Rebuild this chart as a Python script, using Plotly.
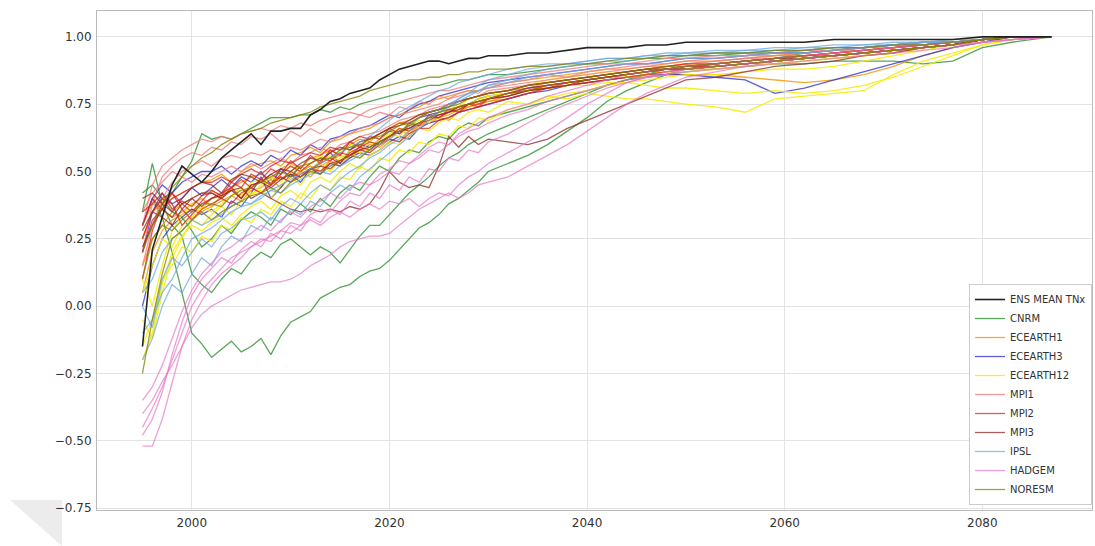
import plotly.graph_objects as go

# x positions (years)
YEARS = [1995, 1996, 1997, 1998, 1999, 2000, 2001, 2002, 2003, 2004, 2005, 2006,
         2007, 2008, 2009, 2010, 2011, 2012, 2013, 2014, 2015, 2016, 2017, 2018,
         2019, 2020, 2021, 2022, 2023, 2024, 2025, 2026, 2027, 2028, 2029, 2030,
         2032, 2034, 2036, 2038, 2040, 2042, 2044, 2046, 2048, 2050,
         2053, 2056, 2059, 2062, 2065, 2068, 2071, 2074, 2077, 2080, 2083,
         2087]

# all series values are in hundredths of the normalised index
SCALE = 100

ENS_MEAN = [-15, 21, 33, 45, 52, 49, 46, 50, 55, 58, 61, 64,
            60, 65, 65, 66, 66, 71, 73, 76, 77, 79, 80, 81,
            84, 86, 88, 89, 90, 91, 91, 90, 91, 92, 92, 93,
            93, 94, 94, 95, 96, 96, 96, 97, 97, 98,
            98, 98, 98, 98, 99, 99, 99, 99, 99, 100, 100,
            100]

CNRM = [
    [30, 40, 33, 20, 5, -10, -14, -19, -16, -13, -17, -15,
     -12, -18, -11, -6, -4, -2, 3, 5, 7, 8, 11, 13,
     14, 17, 21, 25, 29, 31, 34, 38, 40, 43, 46, 50,
     53, 56, 60, 65, 70, 76, 80, 83, 86, 88,
     90, 91, 92, 94, 95, 96, 97, 97, 98, 99, 100,
     100],
    [35, 53, 38, 30, 26, 12, 8, 5, 10, 14, 12, 17,
     20, 18, 23, 25, 22, 19, 22, 20, 16, 21, 26, 30,
     30, 34, 38, 42, 45, 48, 52, 55, 57, 60, 62, 64,
     67, 70, 73, 76, 79, 82, 84, 86, 88, 89,
     90, 91, 92, 93, 94, 95, 96, 97, 98, 99, 100,
     100],
    [42, 45, 40, 35, 33, 28, 22, 25, 30, 27, 32, 35,
     33, 30, 36, 34, 38, 35, 40, 37, 42, 45, 43, 48,
     52, 50, 55, 58, 57, 61, 63, 62, 66, 68, 67, 70,
     72, 74, 76, 78, 80, 82, 84, 85, 86, 87,
     88, 89, 90, 90, 91, 91, 91, 90, 91, 96, 98,
     100],
    [25, 35, 40, 42, 48, 54, 64, 62, 63, 62, 64, 66,
     68, 70, 70, 70, 71, 71, 73, 72, 74, 73, 75, 76,
     77, 78, 79, 80, 81, 82, 82, 83, 84, 84, 85, 86,
     86, 87, 88, 89, 90, 90, 91, 92, 92, 93,
     93, 94, 94, 95, 96, 96, 97, 98, 98, 99, 100,
     100],
]

ECEARTH1 = [
    [15, 25, 30, 35, 38, 40, 42, 43, 41, 44, 46, 48,
     49, 47, 51, 53, 51, 55, 56, 58, 56, 60, 62, 61,
     64, 66, 68, 69, 71, 72, 73, 75, 76, 77, 78, 79,
     80, 81, 83, 84, 85, 86, 87, 88, 88, 89,
     90, 91, 92, 93, 94, 95, 96, 97, 98, 99, 100,
     100],
    [5, 20, 28, 32, 34, 36, 35, 37, 39, 41, 39, 43,
     44, 47, 44, 48, 50, 48, 52, 54, 52, 56, 58, 57,
     60, 62, 61, 65, 67, 68, 70, 71, 73, 74, 75, 76,
     77, 79, 81, 82, 83, 84, 85, 85, 86, 86,
     86, 85, 84, 83, 84, 86, 89, 93, 96, 98, 100,
     100],
    [25, 35, 38, 40, 42, 44, 46, 47, 49, 46, 50, 52,
     53, 54, 52, 56, 57, 59, 57, 61, 62, 64, 65, 66,
     68, 70, 71, 73, 74, 76, 77, 78, 79, 80, 80, 81,
     83, 84, 85, 86, 87, 88, 88, 89, 90, 91,
     91, 92, 93, 94, 95, 96, 96, 97, 98, 99, 100,
     100],
    [30, 38, 36, 33, 35, 38, 40, 37, 41, 43, 40, 44,
     42, 46, 48, 46, 50, 52, 50, 54, 56, 55, 58, 60,
     59, 62, 65, 64, 67, 69, 70, 69, 72, 74, 75, 76,
     78, 80, 81, 82, 83, 84, 85, 86, 87, 88,
     88, 89, 90, 91, 92, 93, 94, 96, 97, 99, 100,
     100],
]

ECEARTH3 = [
    [20, 35, 42, 38, 40, 44, 41, 44, 47, 44, 48, 46,
     50, 45, 51, 48, 52, 50, 54, 57, 53, 58, 60, 59,
     62, 65, 64, 67, 70, 71, 72, 73, 74, 75, 77, 78,
     79, 81, 82, 83, 84, 85, 86, 87, 88, 88,
     89, 90, 91, 92, 93, 94, 95, 96, 97, 99, 100,
     100],
    [0, 15, 25, 30, 33, 36, 34, 36, 33, 39, 37, 42,
     48, 40, 44, 49, 46, 51, 49, 53, 52, 55, 57, 56,
     58, 61, 63, 62, 66, 68, 69, 70, 72, 73, 74, 75,
     77, 79, 80, 82, 83, 84, 85, 86, 86, 86,
     85, 84, 79, 81, 84, 87, 90, 93, 96, 98, 100,
     100],
    [30, 40, 45, 42, 46, 48, 50, 50, 52, 49, 52, 54,
     52, 56, 54, 58, 56, 60, 58, 62, 63, 65, 66, 67,
     69, 71, 70, 73, 75, 76, 78, 79, 80, 81, 82, 83,
     84, 85, 86, 87, 88, 89, 90, 90, 91, 92,
     92, 93, 94, 94, 95, 96, 97, 98, 98, 99, 100,
     100],
]

ECEARTH12 = [
    [-20, -10, 8, 20, 26, 30, 28, 31, 33, 30, 34, 37,
     39, 36, 41, 43, 40, 46, 48, 46, 50, 53, 51, 56,
     58, 61, 60, 63, 66, 65, 68, 70, 69, 72, 73, 72,
     76, 75, 78, 77, 79, 78, 77, 77, 76, 75,
     74, 72, 77, 78, 79, 80, 86, 91, 94, 97, 99,
     100],
    [-5, -12, 5, 18, 25, 32, 30, 34, 37, 34, 39, 42,
     43, 40, 45, 48, 45, 50, 53, 50, 55, 57, 55, 59,
     62, 64, 63, 67, 69, 68, 72, 73, 74, 75, 77, 78,
     79, 80, 81, 82, 82, 83, 83, 82, 81, 81,
     80, 79, 80, 79, 80, 82, 85, 89, 93, 97, 99,
     100],
    [10, 0, 15, 28, 34, 38, 36, 40, 41, 44, 41, 46,
     47, 45, 49, 52, 50, 53, 56, 54, 58, 60, 59, 62,
     64, 66, 68, 67, 70, 72, 73, 75, 74, 77, 78, 79,
     80, 82, 84, 85, 86, 87, 87, 88, 89, 90,
     90, 91, 92, 93, 94, 95, 96, 97, 98, 99, 100,
     100],
    [5, 15, 25, 22, 30, 33, 37, 35, 38, 41, 44, 41,
     45, 48, 46, 50, 52, 50, 54, 56, 54, 58, 57, 61,
     60, 64, 66, 65, 68, 70, 70, 72, 73, 75, 76, 78,
     79, 80, 81, 82, 84, 85, 85, 86, 87, 87,
     88, 89, 90, 91, 92, 93, 94, 96, 97, 99, 100,
     100],
    [-15, -5, 10, 15, 22, 20, 26, 24, 30, 28, 33, 31,
     36, 34, 39, 37, 42, 40, 45, 43, 48, 47, 52, 50,
     55, 54, 58, 57, 61, 60, 64, 63, 67, 66, 70, 69,
     73, 75, 77, 79, 80, 82, 83, 84, 85, 86,
     86, 87, 88, 88, 89, 91, 93, 95, 97, 99, 100,
     100],
]

MPI1 = [
    [30, 45, 52, 55, 58, 60, 62, 61, 63, 62, 64, 65,
     66, 65, 67, 66, 68, 67, 69, 70, 71, 72, 71, 73,
     74, 75, 76, 77, 78, 79, 80, 80, 81, 82, 83, 84,
     85, 86, 87, 88, 89, 90, 90, 91, 92, 92,
     93, 93, 94, 95, 95, 96, 97, 97, 98, 99, 100,
     100],
    [15, 30, 40, 46, 50, 52, 54, 52, 55, 56, 55, 57,
     56, 58, 57, 59, 58, 60, 62, 61, 63, 64, 66, 67,
     68, 70, 71, 72, 73, 74, 75, 77, 78, 79, 80, 81,
     82, 83, 84, 85, 86, 87, 88, 89, 89, 90,
     91, 92, 92, 93, 94, 95, 96, 97, 98, 99, 100,
     100],
    [35, 42, 46, 50, 48, 46, 49, 48, 50, 52, 50, 53,
     51, 53, 55, 53, 56, 57, 59, 57, 60, 61, 63, 64,
     65, 67, 69, 70, 71, 73, 74, 75, 76, 77, 78, 80,
     81, 82, 83, 84, 85, 86, 87, 88, 89, 90,
     91, 92, 93, 93, 94, 95, 96, 97, 98, 99, 100,
     100],
    [20, 38, 48, 52, 55, 57, 56, 59, 58, 61, 60, 63,
     62, 64, 61, 65, 63, 66, 64, 67, 69, 68, 71, 70,
     72, 71, 74, 73, 76, 75, 78, 77, 79, 80, 79, 82,
     83, 84, 86, 85, 87, 88, 89, 90, 90, 91,
     92, 93, 93, 94, 95, 95, 96, 97, 98, 99, 100,
     100],
]

MPI2 = [
    [25, 35, 40, 38, 30, 34, 38, 40, 42, 44, 40, 45,
     46, 49, 47, 50, 48, 51, 53, 55, 53, 57, 59, 58,
     61, 63, 65, 66, 68, 69, 71, 72, 74, 75, 76, 77,
     79, 81, 82, 83, 84, 85, 86, 87, 88, 89,
     90, 91, 92, 93, 94, 95, 96, 97, 98, 99, 100,
     100],
    [10, 28, 38, 42, 36, 32, 36, 38, 40, 38, 42, 44,
     42, 45, 48, 46, 49, 51, 50, 53, 54, 56, 58, 57,
     60, 62, 61, 64, 66, 66, 69, 70, 72, 73, 74, 75,
     77, 79, 81, 82, 83, 84, 85, 86, 87, 88,
     89, 90, 91, 92, 93, 94, 95, 96, 97, 99, 100,
     100],
    [20, 32, 36, 40, 42, 44, 46, 46, 48, 46, 49, 51,
     49, 52, 54, 53, 55, 57, 56, 59, 58, 61, 63, 62,
     64, 66, 68, 68, 70, 72, 73, 75, 76, 77, 78, 79,
     80, 82, 83, 84, 85, 86, 87, 88, 89, 90,
     90, 91, 92, 93, 94, 95, 96, 97, 98, 99, 100,
     100],
    [35, 38, 42, 36, 39, 37, 41, 42, 40, 44, 47, 44,
     47, 45, 49, 52, 50, 53, 55, 54, 57, 56, 59, 61,
     60, 63, 66, 65, 68, 70, 70, 72, 74, 75, 75, 77,
     79, 80, 82, 83, 84, 85, 86, 87, 88, 89,
     89, 90, 91, 92, 93, 94, 95, 96, 97, 99, 100,
     100],
    [30, 40, 36, 42, 38, 35, 39, 43, 41, 46, 44, 49,
     47, 51, 49, 54, 51, 56, 53, 58, 56, 61, 59, 63,
     62, 66, 64, 68, 67, 71, 70, 73, 72, 75, 74, 77,
     78, 80, 81, 83, 84, 85, 86, 87, 88, 88,
     89, 90, 91, 92, 93, 94, 95, 96, 97, 99, 100,
     100],
]

MPI3 = [
    [28, 35, 33, 30, 36, 40, 42, 42, 40, 43, 44, 40,
     42, 40, 38, 36, 35, 36, 35, 36, 35, 37, 36, 38,
     43, 50, 46, 44, 45, 44, 52, 63, 59, 63, 60, 62,
     61, 60, 62, 66, 69, 72, 75, 78, 81, 84,
     85, 87, 89, 90, 91, 93, 94, 96, 97, 99, 100,
     100],
    [40, 42, 38, 35, 40, 44, 46, 45, 42, 47, 49, 48,
     46, 49, 51, 50, 53, 55, 54, 57, 59, 58, 61, 62,
     64, 66, 67, 69, 71, 72, 73, 74, 76, 77, 78, 79,
     80, 82, 83, 84, 85, 86, 87, 88, 88, 89,
     90, 91, 92, 92, 93, 94, 95, 96, 97, 99, 100,
     100],
    [22, 30, 36, 33, 38, 40, 37, 40, 41, 43, 40, 45,
     46, 44, 47, 49, 48, 51, 52, 51, 54, 56, 58, 59,
     61, 63, 65, 66, 68, 70, 71, 72, 73, 75, 76, 77,
     78, 80, 81, 82, 84, 85, 86, 87, 88, 88,
     89, 90, 91, 92, 93, 94, 95, 96, 97, 99, 100,
     100],
]

IPSL = [
    [-10, -5, 5, 10, 18, 25, 27, 29, 32, 35, 37, 38,
     40, 43, 45, 47, 49, 51, 53, 55, 57, 59, 61, 63,
     66, 69, 72, 74, 76, 78, 80, 81, 83, 84, 85, 86,
     88, 89, 90, 90, 91, 92, 92, 93, 93, 94,
     94, 95, 95, 96, 96, 97, 97, 98, 98, 99, 100,
     100],
    [0, -8, 10, 18, 15, 20, 25, 22, 27, 29, 32, 33,
     35, 32, 37, 40, 38, 42, 45, 43, 47, 50, 52, 55,
     57, 60, 62, 65, 68, 70, 72, 74, 76, 78, 80, 82,
     84, 86, 88, 89, 90, 91, 91, 92, 93, 93,
     94, 94, 95, 95, 96, 96, 97, 98, 98, 99, 100,
     100],
    [5, 10, 20, 25, 28, 32, 30, 32, 34, 37, 39, 38,
     41, 43, 42, 45, 47, 49, 50, 49, 52, 54, 56, 58,
     60, 62, 65, 67, 70, 72, 73, 75, 77, 79, 80, 81,
     83, 85, 86, 87, 88, 89, 90, 90, 91, 92,
     92, 93, 94, 94, 95, 96, 97, 97, 98, 99, 100,
     100],
    [-20, -12, 0, 8, 5, 12, 18, 15, 22, 26, 24, 30,
     28, 33, 31, 36, 34, 39, 37, 42, 45, 43, 48, 51,
     54, 57, 60, 63, 66, 69, 72, 74, 77, 79, 82, 84,
     86, 88, 89, 90, 91, 92, 92, 93, 94, 94,
     95, 95, 96, 96, 97, 97, 98, 98, 99, 99, 100,
     100],
]

HADGEM = [
    [-52, -52, -42, -28, -15, -5, 2, 8, 12, 15, 18, 22,
     25, 24, 28, 31, 30, 34, 36, 35, 39, 42, 41, 45,
     47, 50, 49, 53, 55, 58, 57, 60, 63, 65, 66, 68,
     71, 73, 76, 78, 80, 82, 84, 85, 86, 87,
     88, 89, 90, 91, 92, 93, 94, 95, 96, 98, 99,
     100],
    [-45, -38, -30, -20, -10, 0, 6, 10, 14, 18, 20, 22,
     24, 26, 28, 27, 30, 32, 30, 33, 35, 33, 36, 38,
     36, 39, 38, 40, 37, 40, 42, 41, 45, 48, 50, 53,
     57, 61, 65, 70, 75, 79, 83, 85, 87, 88,
     89, 90, 91, 92, 93, 94, 95, 96, 97, 98, 99,
     100],
    [-40, -35, -28, -22, -15, -8, -3, 0, 2, 4, 6, 7,
     8, 9, 9, 10, 12, 15, 17, 19, 22, 24, 25, 26,
     26, 27, 30, 33, 36, 38, 40, 42, 40, 42, 45, 46,
     48, 52, 56, 60, 65, 70, 75, 79, 82, 85,
     87, 89, 91, 92, 93, 94, 95, 96, 97, 98, 99,
     100],
    [-35, -30, -22, -12, -2, 6, 12, 16, 20, 22, 25, 27,
     30, 28, 32, 35, 33, 37, 39, 42, 40, 44, 46, 45,
     49, 51, 54, 53, 56, 59, 61, 60, 64, 66, 68, 70,
     73, 75, 78, 80, 82, 84, 86, 87, 88, 89,
     90, 91, 92, 93, 94, 95, 96, 97, 98, 99, 100,
     100],
    [-48, -42, -32, -18, -6, 4, 10, 14, 18, 16, 21, 24,
     22, 27, 25, 30, 28, 33, 31, 36, 34, 39, 37, 42,
     40, 45, 43, 48, 46, 51, 50, 55, 54, 58, 57, 61,
     64, 68, 72, 75, 78, 81, 83, 85, 86, 88,
     89, 90, 91, 92, 93, 94, 95, 96, 97, 98, 99,
     100],
]

NORESM = [
    [20, 30, 38, 44, 48, 52, 55, 57, 60, 62, 64, 65,
     66, 68, 69, 70, 71, 72, 74, 75, 76, 77, 78, 80,
     81, 82, 83, 84, 84, 85, 85, 86, 86, 87, 87, 88,
     88, 89, 89, 90, 90, 91, 92, 92, 93, 93,
     94, 94, 95, 95, 96, 96, 97, 97, 98, 99, 100,
     100],
    [-25, -5, 12, 25, 28, 32, 35, 32, 35, 37, 39, 41,
     42, 44, 42, 46, 48, 50, 49, 52, 54, 56, 55, 58,
     61, 63, 65, 67, 68, 70, 72, 73, 74, 75, 76, 77,
     79, 80, 82, 83, 84, 85, 86, 87, 88, 88,
     89, 90, 91, 92, 93, 94, 95, 96, 97, 99, 100,
     100],
    [10, 25, 30, 28, 32, 35, 38, 38, 37, 41, 43, 44,
     46, 48, 50, 48, 52, 53, 55, 55, 58, 59, 60, 62,
     63, 65, 67, 68, 70, 72, 73, 74, 75, 77, 78, 79,
     80, 82, 83, 84, 85, 86, 87, 88, 89, 89,
     90, 91, 92, 93, 93, 94, 95, 96, 97, 99, 100,
     100],
]

MODELS = ["CNRM", "ECEARTH1", "ECEARTH3", "ECEARTH12", "MPI1", "MPI2",
          "MPI3", "IPSL", "HADGEM", "NORESM"]
MEMBERS = [CNRM, ECEARTH1, ECEARTH3, ECEARTH12, MPI1, MPI2, MPI3, IPSL,
           HADGEM, NORESM]
COLORS = ["rgba(34,139,34,0.75)", "rgba(240,150,0,0.8)", "rgba(40,40,200,0.75)",
          "rgba(245,235,0,0.85)", "rgba(240,128,128,0.8)", "rgba(220,30,30,0.75)",
          "rgba(140,40,40,0.75)", "rgba(110,170,225,0.75)", "rgba(230,120,200,0.7)",
          "rgba(128,128,0,0.75)"]

X_TICKS = [2000, 2020, 2040, 2060, 2080]
Y_TICKS = [-0.75, -0.50, -0.25, 0.00, 0.25, 0.50, 0.75, 1.00]

assert len(ENS_MEAN) == len(YEARS)
for grp in MEMBERS:
    for m in grp:
        assert len(m) == len(YEARS), (len(m))

fig = go.Figure()
for i, (name, grp, col) in enumerate(zip(MODELS, MEMBERS, COLORS)):
    for j, member in enumerate(grp):
        fig.add_trace(go.Scatter(
            x=YEARS, y=[v / SCALE for v in member], mode="lines",
            name=name, legendgroup=name, showlegend=(j == 0),
            legendrank=i + 2,
            line=dict(color=col, width=1.3),
        ))

fig.add_trace(go.Scatter(
    x=YEARS, y=[v / SCALE for v in ENS_MEAN], mode="lines",
    name="ENS MEAN TNx", legendrank=1,
    line=dict(color="#222222", width=1.6),
))

fig.update_layout(
    width=1095, height=546,
    margin=dict(l=97, r=3, t=11, b=36),
    paper_bgcolor="white", plot_bgcolor="white",
    font=dict(family="DejaVu Sans", size=12, color="#333333"),
    legend=dict(
        x=1, xanchor="right", y=0.01, yanchor="bottom",
        bgcolor="white", bordercolor="#cccccc", borderwidth=1,
        font=dict(size=10, color="#333333"),
        itemwidth=30, tracegroupgap=0,
    ),
    shapes=[dict(
        type="path", xref="paper", yref="paper",
        path="M -0.0874,0.02 L -0.0352,0.02 L -0.0352,-0.0721 Z",
        fillcolor="#ececec", line=dict(width=0), layer="below",
    )],
)
fig.update_xaxes(
    range=[1990.4, 2091.1], tickvals=X_TICKS,
    ticktext=[str(v) for v in X_TICKS],
    showgrid=True, gridcolor="#e3e3e3", gridwidth=1,
    showline=True, linecolor="#bbbbbb", linewidth=1, mirror=True,
    zeroline=False, ticks="", ticklabelstandoff=2,
)
fig.update_yaxes(
    range=[-0.757, 1.096], tickvals=Y_TICKS,
    ticktext=[f"{v:.2f}".replace("-", "\u2212") for v in Y_TICKS],
    showgrid=True, gridcolor="#e3e3e3", gridwidth=1,
    showline=True, linecolor="#bbbbbb", linewidth=1, mirror=True,
    zeroline=False, ticks="", ticklabelstandoff=2,
)

fig.write_html(
    "out.html",
    config={"displayModeBar": False},
    post_script="document.body.style.margin='0';document.body.style.overflow='hidden';",
)
